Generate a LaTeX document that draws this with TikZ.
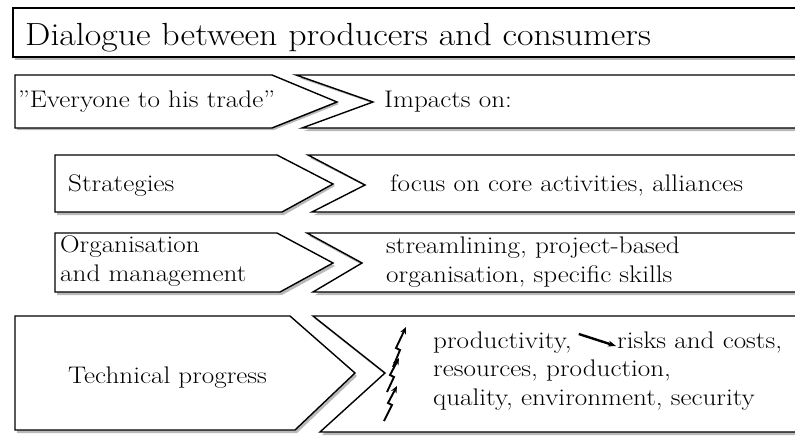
\documentclass[tikz,border=0pt]{standalone}
\usepackage{graphicx}
\usetikzlibrary{arrows.meta}

% wide lettering, last line on the baseline
\newcommand{\widetext}[2][1.13]{\scalebox{#1}[1]{\begin{tabular}[b]{@{}l@{}}#2\end{tabular}}}

\begin{document}
\begin{tikzpicture}[
    x=1pt, y=-1pt,
    panel/.style={draw, line width=1.4pt, fill=white, line join=miter},
    shade/.style={fill=gray!55},
    title/.style={anchor=base west, inner sep=0pt, font=\fontsize{32}{38}\selectfont},
    label/.style={anchor=base west, inner sep=0pt, font=\fontsize{24}{28.5}\selectfont},
    bolt/.style={-{Stealth[length=7pt,width=6pt]}, line width=1.9pt},
    pointer/.style={-{Stealth[length=8pt,width=6pt]}, line width=2.4pt}
  ]

  \useasboundingbox (0,0) rectangle (795,439);
  \clip (0,0) rectangle (795,439);

  % Title bar
  \fill[shade] (15,11) rectangle (810,60);
  \draw[panel] (13,8) rectangle (810,57);
  \node[title] (head) at (25,45) {\widetext[1.12]{Dialogue between producers and consumers}};

  % Row 1
  \fill[shade] (17,78) -- (274,78) -- (339,104) -- (274,130) -- (17,130) -- cycle;
  \draw[panel] (15,75) -- (272,75) -- (337,102) -- (272,128) -- (15,128) -- cycle;
  \fill[shade] (299,78) -- (810,78) -- (810,131) -- (304,131) -- (375,104) -- cycle;
  \draw[panel] (296,75) -- (810,75) -- (810,128) -- (302,128) -- (373,102) -- cycle;
  \node[label] (trade) at (18,107) {\widetext{"Everyone to his trade"}};
  \node[label] (impact) at (384,107) {\widetext{Impacts on:}};

  % Row 2
  \fill[shade] (57,158) -- (279,158) -- (335,186) -- (284,215) -- (57,215) -- cycle;
  \draw[panel] (55,155) -- (277,155) -- (333,184) -- (282,212) -- (55,212) -- cycle;
  \fill[shade] (310,158) -- (810,158) -- (810,215) -- (314,215) -- (367,187) -- cycle;
  \draw[panel] (308,155) -- (810,155) -- (810,212) -- (312,212) -- (365,185) -- cycle;
  \node[label] (strat) at (68,191) {\widetext{Strategies}};
  \node[label] (focus) at (390,191) {\widetext{focus on core activities, alliances}};

  % Row 3
  \fill[shade] (57,236) -- (279,236) -- (335,266) -- (282,295) -- (57,295) -- cycle;
  \draw[panel] (55,233) -- (277,233) -- (333,263) -- (280,292) -- (55,292) -- cycle;
  \fill[shade] (309,236) -- (810,236) -- (810,295) -- (315,295) -- (364,266) -- cycle;
  \draw[panel] (307,233) -- (810,233) -- (810,292) -- (313,292) -- (362,263) -- cycle;
  \node[label] (org) at (60,281) {\widetext{Organisation\\and management}};
  \node[label] (stream) at (386,282) {\widetext{streamlining, project-based\\organisation, specific skills}};

  % Row 4
  \fill[shade] (17,319) -- (292,319) -- (357,376) -- (297,433) -- (17,433) -- cycle;
  \draw[panel] (15,316) -- (290,316) -- (355,373) -- (295,430) -- (15,430) -- cycle;
  \fill[shade] (315,319) -- (810,319) -- (810,435) -- (322,435) -- (387,376) -- cycle;
  \draw[panel] (313,316) -- (810,316) -- (810,432) -- (320,432) -- (385,373) -- cycle;
  \node[label] (tech) at (68,383) {\widetext{Technical progress}};
  \node[label] (prod) at (433,348) {\widetext{productivity,}};
  \node[label] (risk) at (617,348) {\widetext{risks and costs,}};
  \node[label] (res) at (433,405) {\widetext{resources, production,\\quality, environment, security}};

  % Lightning arrows
  \draw[bolt] (384,421) -- (392,405) -- (388,403) -- (397,386);
  \draw[bolt] (387,392) -- (394,377) -- (390,375) -- (399,358);
  \draw[bolt] (393,367) -- (400,350) -- (396,348) -- (406,327);

  % Falling risks
  \draw[pointer] ([shift={(7,-14)}]prod.base east) -- ([shift={(-1,-2)}]risk.base west);

\end{tikzpicture}
\end{document}
